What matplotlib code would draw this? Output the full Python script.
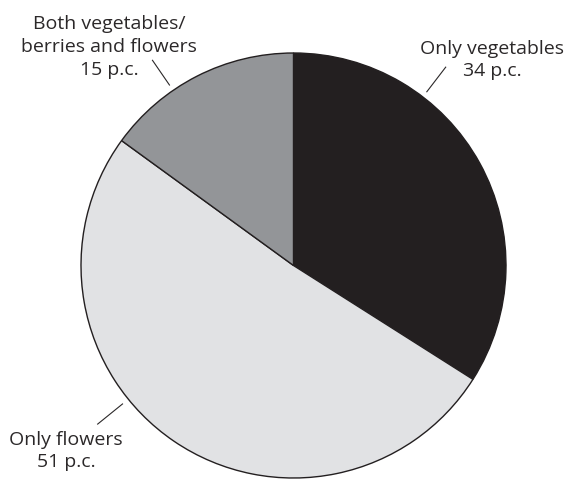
import numpy as np
import matplotlib
matplotlib.use("Agg")
import matplotlib.pyplot as plt

categories = ["Only vegetables", "Only flowers", "Both vegetables/\nberries and flowers"]
values = [34, 51, 15]
value_labels = ["34 p.c.", "51 p.c.", "15 p.c."]
colors = ["#231f20", "#e1e2e4", "#939598"]

W, H = 568, 479
fig = plt.figure(figsize=(W / 100, H / 100), dpi=100)
ax = fig.add_axes([0, 0, 1, 1])

cx, cy, R = 293.5, H - 265.5, 212.5
ax.pie(values, colors=colors, startangle=90, counterclock=False,
       center=(cx, cy), radius=R, frame=True,
       wedgeprops=dict(edgecolor="#231f20", linewidth=1.0))
ax.set_xlim(0, W)
ax.set_ylim(0, H)
ax.axis("off")

txt_color = "#2b2829"
font = dict(family="Open Sans", fontsize=14, color=txt_color)

# (leader angle deg, r_inner, r_outer, text x, text y(px from top))
layout = [
    (52.5, 219, 250, 492, 60),
    (219.0, 220, 252, 66, 451),
    (124.5, 219, 249, 109, 47),
]
for cat, vl, (ang, r1, r2, tx, ty) in zip(categories, value_labels, layout):
    a = np.deg2rad(ang)
    ax.plot([cx + r1 * np.cos(a), cx + r2 * np.cos(a)],
            [cy + r1 * np.sin(a), cy + r2 * np.sin(a)],
            color=txt_color, lw=0.8)
    ax.text(tx, H - ty, cat + "\n" + vl, ha="center", va="center",
            linespacing=1.35, **font)

fig.savefig("out.png", dpi=100)
